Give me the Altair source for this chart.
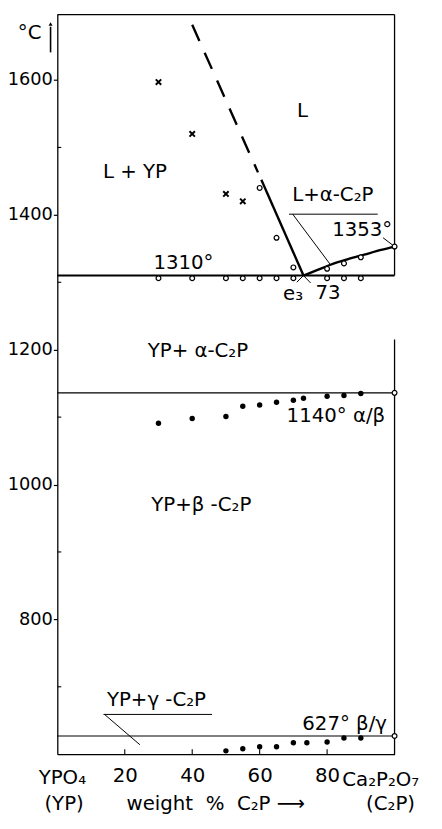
import altair as alt
import pandas as pd

# ---------------- data ----------------
X_DOMAIN = [0, 100]          # weight % C2P
T_DOMAIN = [600, 1697]       # temperature, deg C

# crosses (L + YP region)
cross_x = [30, 40, 50, 55]
cross_t = [1597, 1520, 1431, 1420]

# open circles on / near the liquidus
liq_circ_x = [60, 65, 70, 80, 85, 90, 100]
liq_circ_t = [1440, 1366, 1322, 1320, 1328, 1337, 1353]

# open circles at the eutectic (solidus) line
sol_circ_x = [30, 40, 50, 55, 60, 65, 70, 80, 85, 90]
sol_circ_t = [1306, 1306, 1306, 1306, 1306, 1306, 1306, 1306, 1306, 1306]

# filled dots, alpha/beta transition
ab_x = [30, 40, 50, 55, 60, 65, 70, 73, 80, 85, 90]
ab_t = [1091, 1098, 1101, 1116, 1118, 1122, 1125, 1128, 1131, 1132, 1135]

# filled dots, beta/gamma transition
bg_x = [50, 55, 60, 65, 70, 74, 80, 85, 90]
bg_t = [605, 608, 611, 611, 617, 617, 618, 624, 624]

# open circles at pure C2P transitions
end_circ_x = [100, 100]
end_circ_t = [1136, 627]

# liquidus curves
liq_yp_dash_x = [40, 59.5]
liq_yp_dash_t = [1682, 1463]
liq_yp_solid_x = [60.5, 73]
liq_yp_solid_t = [1452, 1310]
liq_c2p_x = [73, 77, 81, 86, 91, 96, 100]
liq_c2p_t = [1310, 1318, 1326, 1334, 1341, 1348, 1353]

# isotherms
thick_iso_t = [1310]
thin_iso_t = [1136, 627]

# frame pieces (right border has a gap)
rb_t1 = [1697, 1215]
rb_t2 = [1310, 600]

# axis ticks
y_major = [800, 1000, 1200, 1400, 1600]
y_minor = [700, 900, 1100, 1300, 1500]
x_ticks = [20, 40, 60, 80]

# leader lines / underlines
seg_x1 = [68.7, 69.8, 96.6, 73, 73, 13.7, 14.0]
seg_t1 = [1401, 1401, 1366, 1310, 1310, 659, 659]
seg_x2 = [95.0, 81.0, 100, 71.0, 75.1, 45.9, 24.5]
seg_t2 = [1401, 1326, 1353, 1300, 1299, 659, 614]

# labels
NB = "\u00a0"
lab_text = ["L", "L + YP", "L+α-C₂P", "1353°", "1310°", "e₃", "73",
            "YP+" + NB + "α-C₂P", "1140°" + NB + "α/β", "YP+β" + NB + "-C₂P",
            "YP+γ" + NB + "-C₂P", "627°" + NB + "β/γ",
            "YPO₄", "(YP)",
            "weight" + NB * 2 + "%" + NB * 2 + "C₂P" + NB + "⟶",
            "(C₂P)", "°C"]
lab_x = [72.7, 23.0, 81.7, 90.4, 37.4, 69.9, 80.3,
         41.7, 82.6, 42.7, 29.4, 85.2,
         1.5, 2.0, 47.0, 98.8, -8.2]
lab_t = [1554, 1463, 1429, 1377, 1329, 1283, 1284,
         1198, 1101, 969, 681, 645,
         564, 526, 526, 526, 1669]

left_text = ["Ca₂P₂O₇"]
left_x = [84.5]
left_t = [562]

arrow_x = [-2.0]
arrow_t1 = [1641]
arrow_t2 = [1679]
arrow_head_t = [1683]

# ---------------- chart ----------------
FONT = "DejaVu Sans"
FS = 20

xs = alt.Scale(domain=X_DOMAIN, nice=False, zero=False)
ys = alt.Scale(domain=T_DOMAIN, nice=False, zero=False)
x_axis = alt.Axis(values=x_ticks, ticks=False, title=None, grid=False,
                  labelFont=FONT, labelFontSize=FS, labelColor="black",
                  labelPadding=12, domainColor="black", domainWidth=1.3,
                  format="d")
y_axis = alt.Axis(values=y_major, tickSize=4, tickColor="black", tickWidth=1.2,
                  title=None, grid=False, labelFont=FONT, labelFontSize=18,
                  labelColor="black", labelPadding=1, domainColor="black",
                  domainWidth=1.3, format="d")


def X(f="x"):
    return alt.X(f + ":Q", scale=xs, axis=x_axis)


def Y(f="t"):
    return alt.Y(f + ":Q", scale=ys, axis=y_axis)


def df(**kw):
    return pd.DataFrame(kw)


layers = []

# isotherms
layers.append(alt.Chart(df(t=thick_iso_t)).mark_rule(color="black", strokeWidth=2.2)
              .encode(y=Y(), x=alt.value(0), x2=alt.value(342)))
layers.append(alt.Chart(df(t=thin_iso_t)).mark_rule(color="black", strokeWidth=1.1)
              .encode(y=Y(), x=alt.value(0), x2=alt.value(342)))

# frame: top and right border
layers.append(alt.Chart(df(t=[T_DOMAIN[1]])).mark_rule(color="black", strokeWidth=1.3)
              .encode(y=Y(), x=alt.value(0), x2=alt.value(342)))
layers.append(alt.Chart(df(x=[100, 100], t=rb_t1, t2=rb_t2)).mark_rule(color="black", strokeWidth=1.3)
              .encode(x=X(), y=Y(), y2="t2:Q"))

# ticks drawn inward
layers.append(alt.Chart(df(t=y_minor)).mark_rule(color="black", strokeWidth=1.1)
              .encode(y=Y(), x=alt.value(0), x2=alt.value(4)))
layers.append(alt.Chart(df(x=x_ticks)).mark_rule(color="black", strokeWidth=1.1)
              .encode(x=X(), y=alt.value(750), y2=alt.value(745)))

# liquidus
layers.append(alt.Chart(df(x=liq_yp_dash_x, t=liq_yp_dash_t)).mark_line(
    color="black", strokeWidth=2.4, strokeDash=[18, 13]).encode(x=X(), y=Y()))
layers.append(alt.Chart(df(x=liq_yp_solid_x, t=liq_yp_solid_t)).mark_line(
    color="black", strokeWidth=2.4).encode(x=X(), y=Y()))
layers.append(alt.Chart(df(x=liq_c2p_x, t=liq_c2p_t)).mark_line(
    color="black", strokeWidth=2.4, interpolate="monotone").encode(x=X(), y=Y()))

# leader lines
layers.append(alt.Chart(df(x=seg_x1, t=seg_t1, x2=seg_x2, t2=seg_t2)).mark_rule(
    color="black", strokeWidth=1.0).encode(x=X(), y=Y(), x2="x2:Q", y2="t2:Q"))

# points
layers.append(alt.Chart(df(x=cross_x, t=cross_t)).mark_point(
    shape="M-1,-1L1,1M-1,1L1,-1", size=30, color="black", strokeWidth=2.0,
    filled=False, opacity=1).encode(x=X(), y=Y()))
circ = pd.DataFrame({"x": liq_circ_x + sol_circ_x + end_circ_x,
                     "t": liq_circ_t + sol_circ_t + end_circ_t})
layers.append(alt.Chart(circ).mark_point(
    shape="circle", size=24, color="black", fill="white", filled=False,
    fillOpacity=1, opacity=1, strokeWidth=1.2).encode(x=X(), y=Y()))
dots = pd.DataFrame({"x": ab_x + bg_x, "t": ab_t + bg_t})
layers.append(alt.Chart(dots).mark_point(
    shape="circle", size=30, color="black", filled=True, opacity=1).encode(x=X(), y=Y()))

# labels
layers.append(alt.Chart(df(label=lab_text, x=lab_x, t=lab_t)).mark_text(
    font=FONT, fontSize=FS, color="black", align="center", baseline="middle")
    .encode(x=X(), y=Y(), text="label:N"))
layers.append(alt.Chart(df(label=left_text, x=left_x, t=left_t)).mark_text(
    font=FONT, fontSize=FS, color="black", align="left", baseline="middle")
    .encode(x=X(), y=Y(), text="label:N"))

# degree arrow
layers.append(alt.Chart(df(x=arrow_x, t=arrow_t1, t2=arrow_t2)).mark_rule(
    color="black", strokeWidth=1.6).encode(x=X(), y=Y(), y2="t2:Q"))
layers.append(alt.Chart(df(x=arrow_x, t=arrow_head_t)).mark_point(
    shape="triangle-up", size=16, color="black", filled=True, opacity=1)
    .encode(x=X(), y=Y()))

chart = alt.layer(*layers).properties(
    width=342, height=750,
    autosize=alt.AutoSizeParams(type="none"),
    padding={"left": 50, "top": 1, "right": 40, "bottom": 60},
    background="white",
).configure_view(strokeWidth=0)

chart.save("out.html", embed_options={"renderer": "svg", "actions": False})
